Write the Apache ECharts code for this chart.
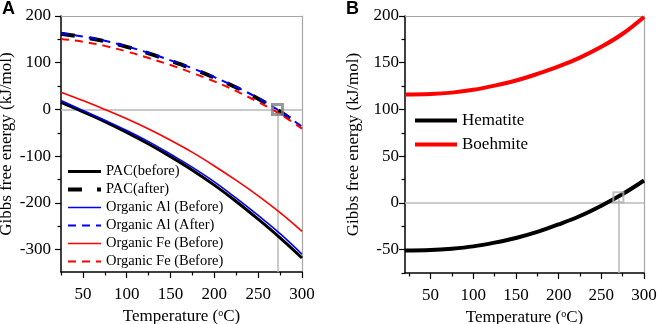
<!DOCTYPE html>
<html>
<head>
<meta charset="utf-8">
<title>Gibbs free energy vs temperature</title>
<script src="https://cdn.jsdelivr.net/npm/echarts@6.0.0/dist/echarts.min.js"></script>
<style>
  * { margin: 0; padding: 0; }
  body { background: #fff; }
  #main { width: 657px; height: 324px; }
</style>
</head>
<body>
<div id="main"></div>
<script>
// panel A data
var tempA = [25, 50, 75, 100, 125, 150, 175, 200, 225, 250, 275, 300];
var pacBefore = [15, -5, -26, -49, -74, -101, -130, -162, -197, -235, -275, -318];
var pacAfter = [162, 155, 146, 134, 120, 104, 87, 68, 47, 23, -5, -38];
var alBefore = [19, -2, -23, -45, -69, -96, -124, -155, -190, -227, -266, -310];
var alAfter = [163, 156, 147, 135, 121, 105, 88, 69, 48, 24, -4, -37];
var feBefore = [37, 19, 0, -20, -42, -66, -92, -121, -152, -185, -221, -261];
var feAfter = [151, 145, 136, 124, 110, 95, 78, 60, 39, 16, -10, -41];
var markerA = [272, 0];

// panel B data
var tempB = [20, 50, 75, 100, 125, 150, 175, 200, 225, 250, 275, 300];
var hematite = [-51, -50.5, -49, -46.5, -42.5, -37.5, -31, -23, -14, -3, 9.5, 24];
var boehmite = [116, 116.5, 118, 121, 125.5, 131, 138, 146, 155.5, 167, 181, 199];
var markerB = [270, 6];

// ticks
var xMajor = [50, 100, 150, 200, 250, 300];
var xMinor = [25, 75, 125, 175, 225, 275];
var yMajorA = [-300, -200, -100, 0, 100, 200];
var yMinorA = [-250, -150, -50, 50, 150];
var yMajorB = [-50, 0, 50, 100, 150, 200];
var yMinorB = [-75, -25, 25, 75, 125, 175];

var legendText = {
  'Organic Fe (After)': 'Organic Fe (Before)'   // the figure labels both red curves "Before"
};

var serif = 'Liberation Serif';
var frameGray = '#a6a6a6';
var guideGray = '#b8b8b8';
var txt = { fontFamily: serif, fontSize: 17, color: '#000' };

function zip(xs, ys) {
  return xs.map(function (x, i) { return [x, ys[i]]; });
}
function tickLabel(v) { return '{t|' + v + '}'; }

function mainX(grid, min) {
  return {
    type: 'value', gridIndex: grid, min: min, max: 300, position: 'bottom',
    name: '{t|Temperature (}{sup|o}{t|C)}', nameLocation: 'middle', nameGap: 35,
    nameTextStyle: {
      fontFamily: serif, fontSize: 17, color: '#000',
      rich: { t: txt, sup: { fontFamily: serif, fontSize: 10, color: '#000', verticalAlign: 'top' } }
    },
    axisLine: { onZero: false, lineStyle: { color: '#000', width: 1.5 } },
    axisTick: { customValues: xMajor, length: 6, lineStyle: { color: '#000', width: 1.2 } },
    axisLabel: { customValues: xMajor, margin: 14, formatter: tickLabel, rich: { t: txt } },
    splitLine: { show: false }
  };
}
function minorX(grid, min) {
  return {
    type: 'value', gridIndex: grid, min: min, max: 300, position: 'bottom',
    axisLine: { show: false, onZero: false },
    axisTick: { customValues: xMinor, length: 3.5, lineStyle: { color: '#000', width: 1.2 } },
    axisLabel: { show: false }, splitLine: { show: false }
  };
}
function frameX(grid, min) {
  return {
    type: 'value', gridIndex: grid, min: min, max: 300, position: 'top',
    axisLine: { onZero: false, lineStyle: { color: frameGray, width: 1.2 } },
    axisTick: { show: false }, axisLabel: { show: false }, splitLine: { show: false }
  };
}
function mainY(grid, min, max, major, gap, margin) {
  return {
    type: 'value', gridIndex: grid, min: min, max: max, position: 'left',
    name: '{t|Gibbs free energy (kJ/mol)}', nameLocation: 'middle', nameGap: gap,
    nameTextStyle: { fontFamily: serif, fontSize: 17, color: '#000', rich: { t: txt } },
    axisLine: { onZero: false, lineStyle: { color: '#000', width: 1.5 } },
    axisTick: { customValues: major, length: 6, lineStyle: { color: '#000', width: 1.2 } },
    axisLabel: { customValues: major, margin: margin, formatter: tickLabel, rich: { t: txt } },
    splitLine: { show: false }
  };
}
function minorY(grid, min, max, ticks) {
  return {
    type: 'value', gridIndex: grid, min: min, max: max, position: 'left',
    axisLine: { show: false, onZero: false },
    axisTick: { customValues: ticks, length: 3.5, lineStyle: { color: '#000', width: 1.2 } },
    axisLabel: { show: false }, splitLine: { show: false }
  };
}
function frameY(grid, min, max) {
  return {
    type: 'value', gridIndex: grid, min: min, max: max, position: 'right',
    axisLine: { onZero: false, lineStyle: { color: frameGray, width: 1.2 } },
    axisTick: { show: false }, axisLabel: { show: false }, splitLine: { show: false }
  };
}

function curve(name, xs, ys, color, width, dash, axis) {
  return {
    name: name, type: 'line', xAxisIndex: axis, yAxisIndex: axis,
    data: zip(xs, ys), smooth: 0.4, symbol: 'none', showSymbol: false, z: 3,
    lineStyle: { color: color, width: width, type: dash },
    itemStyle: { color: color },
    emphasis: { disabled: true }, silent: true
  };
}

function marker(point, xMin, yMin, axis, border, bw) {
  return {
    type: 'scatter', xAxisIndex: axis, yAxisIndex: axis, z: 10, silent: true,
    data: [point], symbol: 'rect', symbolSize: 10,
    itemStyle: { color: 'rgba(0,0,0,0)', borderColor: border, borderWidth: bw },
    markLine: {
      silent: true, z: 1, symbol: ['none', 'none'], label: { show: false },
      lineStyle: { color: guideGray, width: 1.5, type: 'solid' },
      emphasis: { disabled: true },
      data: [
        [{ coord: [xMin, 0] }, { coord: [300, 0] }],
        [{ coord: [point[0], point[1] - 2] }, { coord: [point[0], yMin] }]
      ]
    }
  };
}

var yMinA = -348, yMaxA = 200;
var yMinB = -75, yMaxB = 200;

var legendBase = {
  orient: 'vertical', selectedMode: false, padding: 0,
  itemStyle: { opacity: 0 },
  lineStyle: { width: 'inherit' }
};

var option = {
  animation: false,
  backgroundColor: '#fff',
  textStyle: { fontFamily: serif },
  grid: [
    { left: 61, top: 16, width: 241, height: 256, outerBoundsMode: 'none', containLabel: false },
    { left: 405, top: 16, width: 239, height: 257, outerBoundsMode: 'none', containLabel: false }
  ],
  xAxis: [
    mainX(0, 25), minorX(0, 25), frameX(0, 25),
    mainX(1, 20), minorX(1, 20), frameX(1, 20)
  ],
  yAxis: [
    mainY(0, yMinA, yMaxA, yMajorA, 46, 10), minorY(0, yMinA, yMaxA, yMinorA), frameY(0, yMinA, yMaxA),
    mainY(1, yMinB, yMaxB, yMajorB, 43, 6), minorY(1, yMinB, yMaxB, yMinorB), frameY(1, yMinB, yMaxB)
  ],
  legend: [
    Object.assign({}, legendBase, {
      data: ['PAC(before)', 'PAC(after)', 'Organic Al (Before)', 'Organic Al (After)', 'Organic Fe (Before)', 'Organic Fe (After)'],
      left: 66, top: 164, itemWidth: 33, itemHeight: 14, itemGap: 3,
      formatter: function (n) { return legendText[n] || n; },
      textStyle: { fontFamily: serif, fontSize: 14.5, color: '#000' }
    }),
    Object.assign({}, legendBase, {
      data: ['Hematite', 'Boehmite'],
      left: 413, top: 112, itemWidth: 42, itemHeight: 14, itemGap: 7,
      textStyle: { fontFamily: serif, fontSize: 17, color: '#000' }
    })
  ],
  graphic: [
    { type: 'text', left: 2, top: 0, style: { text: 'A', font: 'bold 18px Liberation Sans', fill: '#000' } },
    { type: 'text', left: 346, top: 0, style: { text: 'B', font: 'bold 18px Liberation Sans', fill: '#000' } }
  ],
  series: [
    marker(markerA, tempA[0], yMinA, 0, '#808080', 3),
    curve('PAC(before)', tempA, pacBefore, '#000', 3, 'solid', 0),
    curve('PAC(after)', tempA, pacAfter, '#000', 4, [14, 15], 0),
    curve('Organic Al (Before)', tempA, alBefore, '#0000ff', 1.6, 'solid', 0),
    curve('Organic Al (After)', tempA, alAfter, '#0000ff', 2, [8, 6], 0),
    curve('Organic Fe (Before)', tempA, feBefore, '#ff0000', 1.6, 'solid', 0),
    curve('Organic Fe (After)', tempA, feAfter, '#ff0000', 2, [8, 6], 0),
    marker(markerB, tempB[0], yMinB, 3, '#b0b0b0', 2),
    curve('Hematite', tempB, hematite, '#000', 4, 'solid', 3),
    curve('Boehmite', tempB, boehmite, '#ff0000', 4, 'solid', 3)
  ]
};

var chart = echarts.init(document.getElementById('main'), null, { renderer: 'canvas' });
chart.setOption(option);
</script>
</body>
</html>
